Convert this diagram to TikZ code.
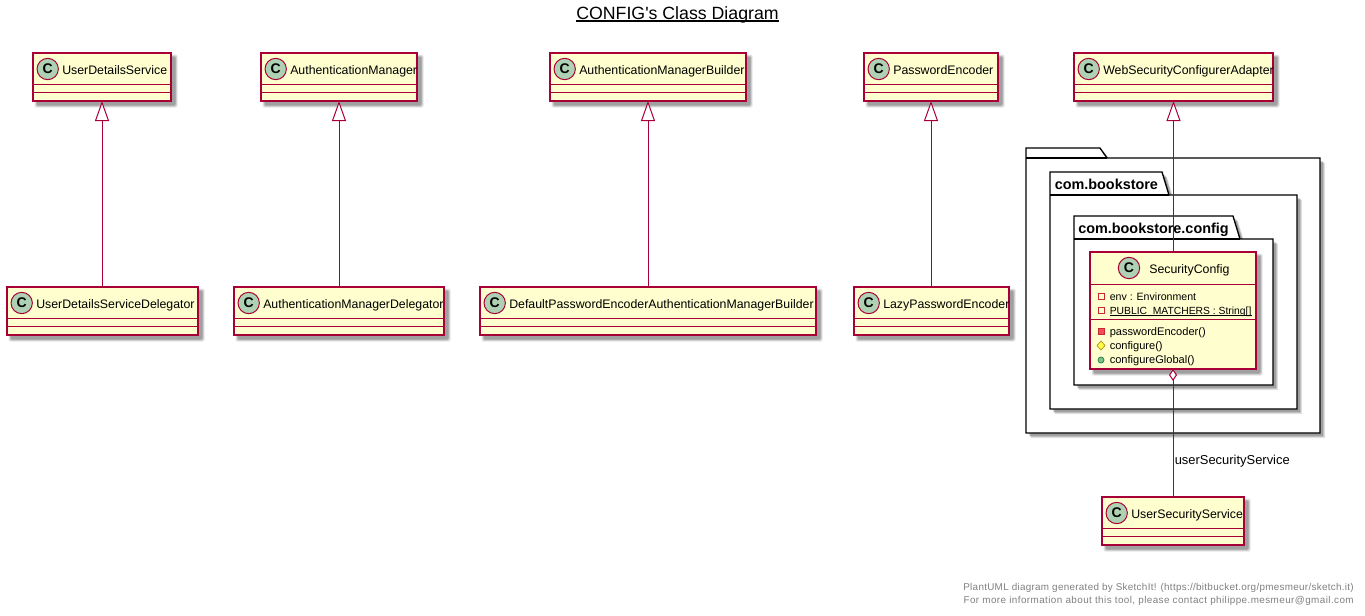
\documentclass[tikz,border=0pt]{standalone}
\usepackage{fontspec}
\setmainfont{Liberation Sans}
\newfontfamily\plainsans{Liberation Sans}
\usetikzlibrary{arrows.meta,shapes.geometric}
\definecolor{umlred}{HTML}{A80036}
\definecolor{umlfill}{HTML}{FEFECE}
\definecolor{umlicon}{HTML}{ADD1B2}
\definecolor{privline}{HTML}{C82930}
\definecolor{privfill}{HTML}{F24D5C}
\definecolor{protline}{HTML}{B38D22}
\definecolor{protfill}{HTML}{FFFF44}
\definecolor{publine}{HTML}{038048}
\definecolor{pubfill}{HTML}{84BE84}
\tikzset{
  x=0.75pt,y=-0.75pt,
  umlbox/.style={draw=umlred,fill=umlfill,line width=0.9pt,rectangle,inner sep=0pt,outer sep=0pt},
  umlrule/.style={draw=umlred,line width=0.9pt},
  umlicn/.style={circle,draw=umlred,fill=umlicon,line width=0.75pt,minimum size=16pt,inner sep=0pt,font=\fontsize{10.5}{10}\bfseries},
  umlname/.style={anchor=base west,inner sep=0pt,font=\fontsize{9.25}{11}\selectfont},
  umlmember/.style={anchor=base west,inner sep=0pt,font=\fontsize{8.3}{10}\selectfont},
  pkg/.style={draw=black,fill=white,line width=1pt,line join=miter},
  pkglabel/.style={anchor=base west,inner sep=0pt,font=\fontsize{10.8}{13}\bfseries},
  umllink/.style={draw=umlred,line width=0.75pt},
  extends/.style={umllink,-{Triangle[open,fill=white,length=15pt,width=10.5pt]}},
  aggreg/.style={umllink,{Diamond[open,fill=white,length=9pt,width=6pt]}-},
  foot/.style={anchor=base east,inner sep=0pt,text=black!50,font=\fontsize{7.4}{9}\selectfont},
}
\newcommand{\softshadow}[4]{%
  \foreach \e/\o in {2.5/0.10,1.5/0.14,0.5/0.18}{%
    \fill[black,opacity=\o,rounded corners=1pt] (#1+4-\e,#2+4-\e) rectangle (#3+4+\e,#4+4+\e);}}
\newcommand{\umlclass}[6]{%
  \softshadow{#2}{#3}{#4}{#5}%
  \pgfmathsetmacro\boxW{(#4-#2)*0.75}\pgfmathsetmacro\boxH{(#5-#3)*0.75}%
  \node[umlbox,minimum width=\boxW pt,minimum height=\boxH pt] (#1) at ({(#2+#4)/2},{(#3+#5)/2}) {};
  \draw[umlrule] (#2,#3+31.3) -- (#4,#3+31.3);
  \draw[umlrule] (#2,#3+39.8) -- (#4,#3+39.8);
  \node[umlicn] (#1icon) at (#2+14.7,#3+16) {C};
  \node[umlname] (#1name) at (#2+29,#3+21) {#6};
}
\newcommand{\umlpkg}[6]{% x1 tabtop bodytop x2 bottom tabright
  \foreach \d/\o in {5/0.10,4/0.14,3/0.18}{%
    \fill[black,opacity=\o] (#1+\d,#2+\d) -- (#6+\d,#2+\d) -- (#6+7+\d,#3+\d) -- (#4+\d,#3+\d) -- (#4+\d,#5+\d) -- (#1+\d,#5+\d) -- cycle;}
  \draw[pkg] (#1,#2) -- (#6,#2) -- (#6+7,#3) -- (#4,#3) -- (#4,#5) -- (#1,#5) -- cycle;
  \draw[pkg] (#1,#3) -- (#6+7,#3);
}
\begin{document}
\begin{tikzpicture}
\useasboundingbox (0,0) rectangle (1365,615);
\fill[white] (0,0) rectangle (1365,615);

\node[anchor=base,inner sep=0pt,font=\plainsans\fontsize{13.3}{16}\selectfont] (title) at (677.5,19) {CONFIG's Class Diagram};
\draw[line width=1pt] ([yshift=-1.5pt]title.base west) -- ([yshift=-1.5pt]title.base east);

\umlpkg{1026}{148}{158}{1320}{433}{1100}
\umlpkg{1050}{172}{195}{1297}{409}{1162}
\node[pkglabel] (pkgb) at (1054.5,189) {com.bookstore};
\umlpkg{1074}{216}{239}{1273}{385}{1233}
\node[pkglabel] (pkgc) at (1078,233) {com.bookstore.config};

\umlclass{uds}{33}{53}{171}{101}{UserDetailsService}
\umlclass{am}{261}{53}{417}{101}{AuthenticationManager}
\umlclass{amb}{550}{53}{746}{101}{AuthenticationManagerBuilder}
\umlclass{pe}{864}{53}{998}{101}{PasswordEncoder}
\umlclass{wsca}{1074}{53}{1273}{101}{WebSecurityConfigurerAdapter}
\umlclass{udsd}{7}{287}{198}{335}{UserDetailsServiceDelegator}
\umlclass{amd}{234}{287}{444}{335}{AuthenticationManagerDelegator}
\umlclass{dpe}{480}{287}{816}{335}{DefaultPasswordEncoderAuthenticationManagerBuilder}
\umlclass{lpe}{854}{287}{1009}{335}{LazyPasswordEncoder}
\umlclass{uss}{1102}{497}{1244}{545}{UserSecurityService}

% SecurityConfig
\softshadow{1090}{252}{1256}{369}
\node[umlbox,minimum width=124.5pt,minimum height=87.75pt] (sc) at (1173,310.5) {};
\draw[umlrule] (1090,284.3) -- (1256,284.3);
\draw[umlrule] (1090,319.3) -- (1256,319.3);
\node[umlicn] (scicon) at (1129,268) {C};
\node[umlname] (scname) at (1149,273) {SecurityConfig};
\draw[draw=privline,line width=0.7pt] (1098,293.5) rectangle (1104,299.5);
\draw[draw=privline,line width=0.7pt] (1098,307) rectangle (1104,313);
\node[umlmember,font=\fontsize{7.95}{10}\selectfont] (m1) at (1109.5,300.7) {env : Environment};
\node[umlmember,font=\fontsize{7.75}{10}\selectfont] (m2) at (1109.5,314) {PUBLIC\_MATCHERS : String[]};
\draw[line width=0.6pt] ([yshift=-1pt]m2.base west) -- ([yshift=-1pt]m2.base east);
\filldraw[fill=privfill,draw=privline,line width=0.5pt] (1098,328.5) rectangle (1104,334.5);
\filldraw[fill=protfill,draw=protline,line width=0.5pt] (1101,341) -- (1105,345.5) -- (1101,350) -- (1097,345.5) -- cycle;
\filldraw[fill=pubfill,draw=publine,line width=0.5pt] (1101,360) circle (3);
\node[umlmember] (m3) at (1109.5,335) {passwordEncoder()};
\node[umlmember] (m4) at (1109.5,349.3) {configure()};
\node[umlmember] (m5) at (1109.5,363.3) {configureGlobal()};

\draw[extends] (udsd.north -| uds.south) -- (uds.south);
\draw[extends] (amd.north -| am.south) -- (am.south);
\draw[extends] (dpe.north -| amb.south) -- (amb.south);
\draw[extends] (lpe.north -| pe.south) -- (pe.south);
\draw[extends] (sc.north -| wsca.south) -- (wsca.south);
\draw[aggreg] (sc.south) -- (uss.north -| sc.south);
\coordinate (lbl) at (1174.5,464);
\node[anchor=base west,inner sep=0pt,font=\fontsize{9.7}{11}\selectfont] (sclabel) at (lbl) {userSecurityService};

\node[foot] (f1) at (1354,590.5) {\addfontfeature{LetterSpace=3}PlantUML diagram generated by SketchIt! (https://bitbucket.org/pmesmeur/sketch.it)};
\node[foot] (f2) at (1354,603) {\addfontfeature{LetterSpace=4.3}For more information about this tool, please contact philippe.mesmeur@gmail.com};
\end{tikzpicture}
\end{document}
